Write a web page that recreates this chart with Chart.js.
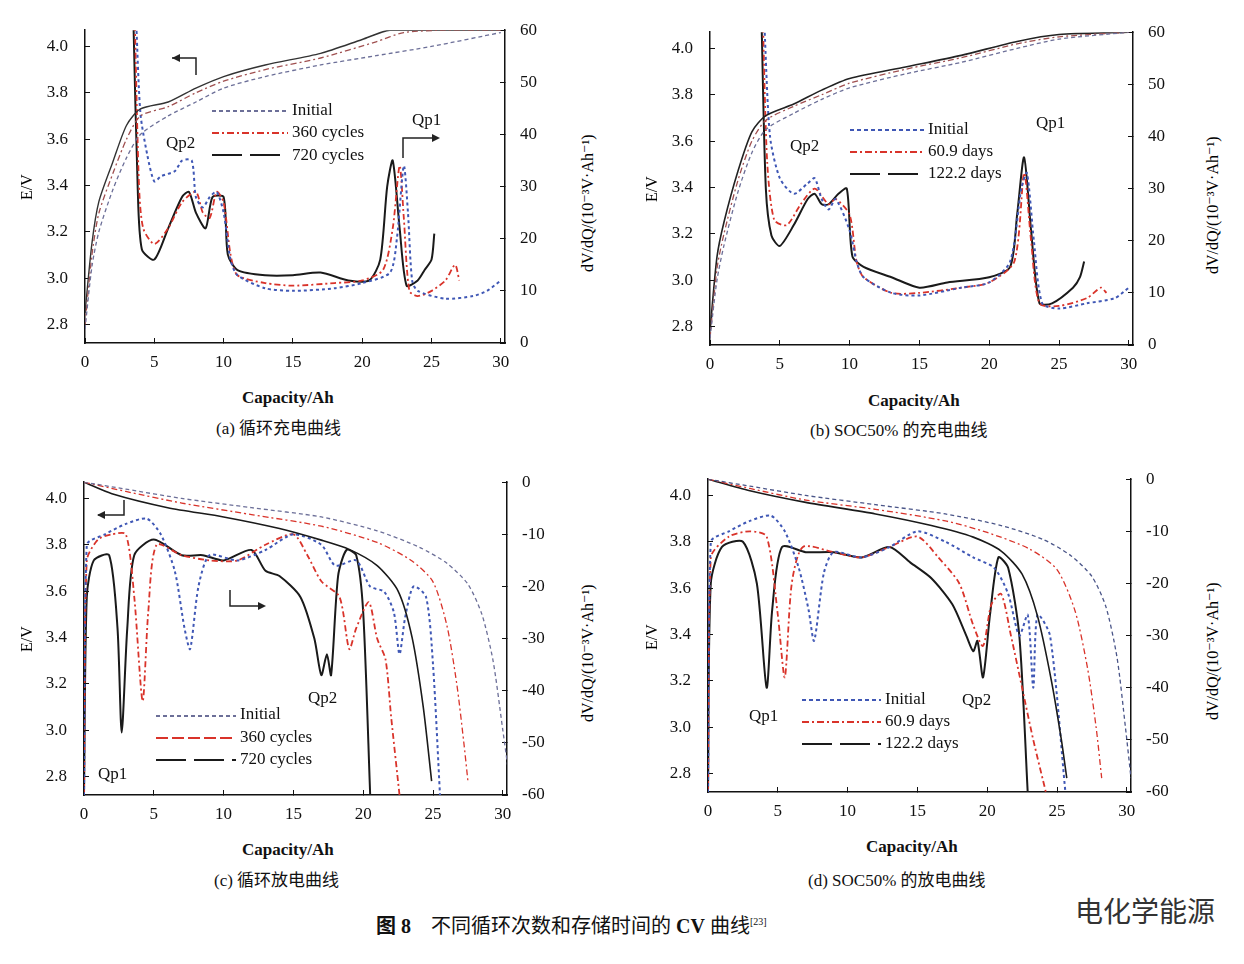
<!DOCTYPE html>
<html><head><meta charset="utf-8">
<script src="https://cdn.jsdelivr.net/npm/chart.js@4/dist/chart.umd.min.js"></script>
<style>
body{margin:0;background:#fff;width:1244px;height:964px;position:relative;overflow:hidden;font-family:"Liberation Serif","DejaVu Serif",serif;}
canvas{position:absolute}
.t{position:absolute;font-size:17px;color:#111;white-space:nowrap}
.cap{position:absolute;font-size:17px;color:#111;white-space:nowrap;font-family:"Liberation Serif","Noto Sans CJK SC",serif}
.rot{position:absolute;transform:rotate(-90deg);transform-origin:left top;font-size:16px;white-space:nowrap}
svg{position:absolute;left:0;top:0}
</style></head><body>
<script>
// ---------- DATA ----------
// Panel (a) cyclic charge: voltage [capacity, V]
const aVInit=[[0,2.78],[0.5,3.05],[1,3.2],[2,3.38],[3,3.52],[4,3.62],[6,3.7],[8,3.76],[10,3.82],[13,3.87],[17,3.92],[21,3.96],[25,4.0],[30,4.06]];
const aV360=[[0,2.8],[0.5,3.1],[1,3.28],[2,3.45],[3,3.6],[4,3.7],[6,3.74],[8,3.8],[10,3.85],[13,3.9],[17,3.95],[21,4.02],[23,4.06],[26,4.07],[30,4.07]];
const aV720=[[0,2.85],[0.5,3.15],[1,3.33],[2,3.5],[3,3.66],[4,3.73],[6,3.76],[8,3.82],[10,3.87],[13,3.92],[17,3.97],[20,4.03],[22,4.07],[30,4.07]];
// dQ/dV [capacity, 1e-3 V/Ah]
const aDInit=[[3.7,61],[4,44],[4.5,36],[5,31],[5.5,32],[6.5,33],[7,35],[7.7,35],[8,28],[8.5,26],[9,28],[9.5,29],[10,25],[10.5,16],[11,13],[13,10.5],[15,10],[18,10.5],[20,11.5],[22,13.5],[22.5,20],[23,34],[23.3,25],[23.6,12],[24,10],[26,8.5],[28,9],[29,10],[30,12]];
const aD360=[[3.6,61],[3.9,30],[4.2,22],[5,19],[6,22],[7,27],[8,29],[8.5,25],[9,24],[9.5,29],[10,27],[10.5,17],[11,13],[13,11.5],[15,11],[18,11.5],[20,12],[21.5,14],[22.2,22],[22.7,34],[23,24],[23.4,10],[24,9],[25,10],[26,12],[26.7,15],[27,12]];
const aD720=[[3.5,61],[3.8,30],[4.1,18],[5,16],[6,22],[7,28],[7.5,29],[8,25],[8.7,22],[9.2,28],[10,28],[10.3,17],[11,14],[13,13],[15,13],[17,13.5],[19,12],[20.5,12],[21.3,16],[21.8,30],[22.2,35],[22.7,22],[23.2,11],[24,12],[24.5,14],[25,16],[25.2,21]];
// Panel (b) SOC50% charge
const bVInit=[[0,2.75],[0.5,3.0],[1,3.15],[2,3.38],[3,3.55],[4,3.65],[6,3.72],[8,3.78],[10,3.83],[14,3.89],[18,3.94],[22,4.0],[25,4.04],[30,4.07]];
const bV60=[[0,2.75],[0.5,3.05],[1,3.2],[2,3.43],[3,3.6],[4,3.69],[6,3.75],[8,3.8],[10,3.85],[14,3.91],[18,3.96],[22,4.02],[25,4.05],[30,4.07]];
const bV122=[[0,2.78],[0.5,3.1],[1,3.25],[2,3.47],[3,3.64],[4,3.71],[6,3.76],[8,3.82],[10,3.87],[14,3.92],[18,3.97],[22,4.03],[25,4.06],[30,4.07]];
const bDInit=[[3.9,61],[4.3,40],[5,32],[6,29],[7,31],[7.5,32],[8,28],[8.5,26],[9,28],[10,22],[10.5,16],[11,13],[13,10],[15,9.5],[18,11],[20,12],[21.5,16],[22.3,30],[22.7,33],[23.2,20],[23.8,8],[25,7],[27,8],[29,9],[30,11]];
const bD60=[[3.8,61],[4.1,35],[4.6,24],[5.5,23],[6.5,27],[7.5,30],[8.5,27],[9,28],[10,25],[10.5,16],[11,13],[13,10],[15,10],[18,11],[20,12],[21.8,16],[22.5,33],[23,20],[23.6,8],[25,7.5],[27,9],[28,11],[28.4,10]];
const bD122=[[3.7,61],[4,30],[4.4,21],[5,19],[6,23],[7,28],[7.5,29],[8,27],[8.5,27],[9.2,29],[9.8,30],[10.2,17],[11,15],[13,13],[15,11],[17,12],[20,13],[21.5,15],[22,25],[22.5,36],[23,22],[23.6,8],[24.5,8],[26,11],[26.5,13],[26.8,16]];
// Panel (c) cyclic discharge
const cVInit=[[0,4.07],[3,4.04],[7,4.0],[12,3.96],[17,3.92],[21,3.86],[24,3.79],[26,3.72],[27.5,3.63],[28.5,3.5],[29.3,3.3],[30,3.0],[30.5,2.78]];
const cV360=[[0,4.07],[3,4.03],[7,3.98],[12,3.93],[17,3.88],[21,3.81],[23.5,3.73],[25,3.64],[26,3.45],[26.7,3.2],[27.2,2.95],[27.5,2.78]];
const cV720=[[0,4.07],[2,4.02],[6,3.96],[10,3.92],[14,3.87],[17,3.82],[19,3.78],[21,3.71],[22.5,3.6],[23.5,3.4],[24.3,3.1],[24.9,2.78]];
const cDInit=[[0,-60],[0.2,-12],[1.5,-10],[3,-8],[4.5,-7],[5.5,-10],[6.5,-17],[7.2,-28],[7.6,-32],[8.2,-20],[9,-14],[11,-15],[13,-13],[15,-10],[17,-12],[18,-16],[19.5,-15],[20.5,-20],[21.5,-21],[22.2,-25],[22.6,-33],[23,-26],[23.6,-20],[24.5,-22],[25,-35],[25.5,-60]];
const cD360=[[0,-60],[0.2,-15],[1,-11],[2,-10],[3,-10],[3.6,-22],[4.2,-42],[4.6,-25],[5.2,-12],[7,-14],[9,-15],[11,-15],[13,-12],[15,-10],[16,-14],[17,-19],[18.3,-22],[19,-32],[19.5,-28],[20.4,-23],[21,-30],[21.6,-34],[22,-45],[22.6,-60]];
const cD720=[[0,-60],[0.2,-22],[0.7,-15],[1.8,-14],[2.4,-28],[2.7,-48],[3.1,-28],[3.6,-14],[5,-11],[7,-14],[8.5,-14],[10,-15],[12,-13],[13,-17],[14,-18],[15.5,-22],[16.5,-30],[17,-37],[17.4,-33],[17.7,-37],[18.2,-18],[18.8,-13],[19.5,-14],[20,-25],[20.5,-60]];
// Panel (d) SOC50% discharge
const dVInit=[[0,4.07],[3,4.04],[7,4.0],[12,3.96],[17,3.92],[21,3.87],[24,3.81],[26,3.74],[27.5,3.65],[28.5,3.52],[29.3,3.3],[29.9,3.0],[30.3,2.78]];
const dV60=[[0,4.07],[3,4.03],[7,3.98],[12,3.94],[17,3.89],[20,3.84],[23,3.77],[25,3.68],[26.3,3.5],[27.2,3.25],[27.8,3.0],[28.2,2.78]];
const dV122=[[0,4.07],[3,4.02],[7,3.97],[12,3.92],[16,3.87],[19,3.82],[21,3.76],[22.5,3.66],[23.6,3.48],[24.6,3.2],[25.3,2.95],[25.7,2.78]];
const dDInit=[[0,-60],[0.2,-12],[1.5,-10],[3,-8],[4.5,-7],[5.5,-10],[6.5,-17],[7.2,-25],[7.6,-31],[8.3,-18],[9,-14],[11,-15],[13,-13],[15,-10],[17,-12],[19,-15],[20.5,-17],[21.5,-22],[22.3,-30],[22.9,-26],[23.3,-40],[23.6,-26],[24.5,-30],[25.6,-60]];
const dD60=[[0,-60],[0.2,-15],[1.5,-11],[3,-10],[4.2,-11],[5,-26],[5.5,-38],[6,-20],[6.8,-13],[9,-14],[11,-15],[13,-13],[15,-11],[16.5,-15],[18,-20],[19,-28],[19.7,-32],[20.3,-24],[21,-22],[21.7,-30],[22.5,-40],[23.3,-50],[24.2,-60]];
const dD122=[[0,-60],[0.2,-20],[1,-13],[2.5,-12],[3.5,-20],[4.2,-40],[4.6,-25],[5.3,-13],[7,-14],[9,-14],[11,-15],[13,-13],[14.5,-16],[16,-19],[17.5,-24],[18.5,-30],[19,-33],[19.3,-31],[19.7,-38],[20.2,-26],[20.8,-15],[21.5,-17],[22.3,-30],[22.9,-60]];
const xTicks=[0,5,10,15,20,25,30];
const vTicks=[2.8,3.0,3.2,3.4,3.6,3.8,4.0];

const BLUE='#3f57b5',RED='#d9332a',BLK='#1a1a1a',GRAY='#6c6f98';
function ds(d,color,dash,axis,w){return{data:d.map(p=>({x:p[0],y:p[1]})),borderColor:color,borderDash:dash,borderWidth:w||1.6,pointRadius:0,tension:0.25,yAxisID:axis,fill:false};}
function panel(id,L,T,W,H,yR,sets){
  const c=document.createElement('canvas');c.id=id;
  const LW=70,RW=70,XH=40,TOP=30;
  const cw=W+LW+RW,ch=H+TOP+XH;
  c.style.left=(L-LW)+'px';c.style.top=(T-TOP)+'px';c.style.width=cw+'px';c.style.height=ch+'px';
  c.width=cw;c.height=ch;
  document.body.appendChild(c);
  const tickFont={family:'Liberation Serif',size:17};
  new Chart(c,{type:'line',data:{datasets:sets},options:{responsive:false,animation:false,devicePixelRatio:1,
    layout:{padding:0},plugins:{legend:{display:false},tooltip:{enabled:false}},
    scales:{
      x:{type:'linear',min:0,max:30.3,afterBuildTicks:a=>{a.ticks=xTicks.map(v=>({value:v}))},
        afterFit:a=>{a.height=XH},ticks:{font:tickFont,color:'#111',padding:14,maxRotation:0},grid:{drawOnChartArea:false,tickLength:-5,color:'#111'},border:{color:'#111',width:1.5}},
      y:{position:'left',min:2.72,max:4.07,afterBuildTicks:a=>{a.ticks=vTicks.map(v=>({value:v}))},
        afterFit:a=>{a.width=LW},ticks:{font:tickFont,color:'#111',callback:v=>v.toFixed(1),padding:22},grid:{drawOnChartArea:false,tickLength:-5,color:'#111'},border:{color:'#111',width:1.5}},
      y2:{position:'right',min:yR[0],max:yR[1],afterBuildTicks:a=>{const t=[];for(let v=yR[0];v<=yR[1];v+=10)t.push({value:v});a.ticks=t},
        afterFit:a=>{a.width=RW},ticks:{font:tickFont,color:'#111',padding:20},grid:{drawOnChartArea:false,tickLength:-5,color:'#111'},border:{color:'#111',width:1.5}}
    }}});
  return c;
}
panel('a',85,28,420,315,[0,60],[
  ds(aVInit,GRAY,[4,3],'y',1.3),ds(aV360,'#a05050',[6,3,2,3],'y',1.3),ds(aV720,'#333',[],'y',1.4),
  ds(aDInit,BLUE,[3,3],'y2',2),ds(aD360,RED,[6,3,2,3],'y2',1.8),ds(aD720,BLK,[],'y2',2)]);
panel('b',710,30,423,315,[0,60],[
  ds(bVInit,GRAY,[4,3],'y',1.3),ds(bV60,'#a05050',[6,3,2,3],'y',1.3),ds(bV122,'#222',[],'y',1.6),
  ds(bDInit,BLUE,[3,3],'y2',2),ds(bD60,RED,[6,3,2,3],'y2',1.8),ds(bD122,BLK,[],'y2',2)]);
panel('c',84,480,423,315,[-60,0],[
  ds(cVInit,GRAY,[4,3],'y',1.3),ds(cV360,RED,[6,3,2,3],'y',1.3),ds(cV720,BLK,[],'y',1.6),
  ds(cDInit,BLUE,[3,3],'y2',2),ds(cD360,RED,[6,3,2,3],'y2',1.8),ds(cD720,BLK,[],'y2',2)]);
panel('d',708,477,423,315,[-60,0],[
  ds(dVInit,'#4a5588',[4,3],'y',1.3),ds(dV60,RED,[6,3,2,3],'y',1.3),ds(dV122,BLK,[],'y',1.6),
  ds(dDInit,BLUE,[3,3],'y2',2),ds(dD60,RED,[6,3,2,3],'y2',1.8),ds(dD122,BLK,[],'y2',2)]);
</script>
<!-- axis titles -->
<div class="rot" style="left:18px;top:200px">E/V</div>
<div class="rot" style="left:643px;top:202px">E/V</div>
<div class="rot" style="left:18px;top:652px">E/V</div>
<div class="rot" style="left:643px;top:650px">E/V</div>
<div class="rot" style="left:578px;top:272px">dV/dQ/(10⁻³V·Ah⁻¹)</div>
<div class="rot" style="left:1203px;top:274px">dV/dQ/(10⁻³V·Ah⁻¹)</div>
<div class="rot" style="left:578px;top:722px">dV/dQ/(10⁻³V·Ah⁻¹)</div>
<div class="rot" style="left:1203px;top:720px">dV/dQ/(10⁻³V·Ah⁻¹)</div>
<div class="t" style="left:242px;top:388px;font-weight:bold">Capacity/Ah</div>
<div class="t" style="left:868px;top:391px;font-weight:bold">Capacity/Ah</div>
<div class="t" style="left:242px;top:840px;font-weight:bold">Capacity/Ah</div>
<div class="t" style="left:866px;top:837px;font-weight:bold">Capacity/Ah</div>
<div class="cap" style="left:216px;top:414px">(a) 循环充电曲线</div>
<div class="cap" style="left:810px;top:416px">(b) SOC50% 的充电曲线</div>
<div class="cap" style="left:214px;top:866px">(c) 循环放电曲线</div>
<div class="cap" style="left:808px;top:866px">(d) SOC50% 的放电曲线</div>
<div class="cap" style="left:376px;top:910px;font-size:20px"><b>图 8</b>&nbsp;&nbsp;&nbsp; 不同循环次数和存储时间的 <b>CV</b> 曲线<sup style="font-size:10px">[23]</sup></div>
<div class="cap" style="left:1075px;top:890px;font-size:28px;color:#333;font-family:'Noto Sans CJK SC'">电化学能源</div>
<!-- annotations -->
<div class="t" style="left:166px;top:133px">Qp2</div>
<div class="t" style="left:412px;top:110px">Qp1</div>
<div class="t" style="left:790px;top:136px">Qp2</div>
<div class="t" style="left:1036px;top:113px">Qp1</div>
<div class="t" style="left:308px;top:688px">Qp2</div>
<div class="t" style="left:98px;top:764px">Qp1</div>
<div class="t" style="left:962px;top:690px">Qp2</div>
<div class="t" style="left:749px;top:706px">Qp1</div>
<!-- legends -->
<div class="t" style="left:292px;top:100px">Initial</div>
<div class="t" style="left:292px;top:122px">360 cycles</div>
<div class="t" style="left:292px;top:145px">720 cycles</div>
<div class="t" style="left:928px;top:119px">Initial</div>
<div class="t" style="left:928px;top:141px">60.9 days</div>
<div class="t" style="left:928px;top:163px">122.2 days</div>
<div class="t" style="left:240px;top:704px">Initial</div>
<div class="t" style="left:240px;top:727px">360 cycles</div>
<div class="t" style="left:240px;top:749px">720 cycles</div>
<div class="t" style="left:885px;top:689px">Initial</div>
<div class="t" style="left:885px;top:711px">60.9 days</div>
<div class="t" style="left:885px;top:733px">122.2 days</div>
<svg width="1244" height="964">
 <g stroke-width="2" fill="none">
  <line x1="212" y1="111" x2="288" y2="111" stroke="#6c6f98" stroke-dasharray="4 3"/>
  <line x1="212" y1="133" x2="288" y2="133" stroke="#d9332a" stroke-dasharray="7 3 2 3"/>
  <line x1="212" y1="155" x2="288" y2="155" stroke="#1a1a1a" stroke-dasharray="30 8"/>
  <line x1="850" y1="130" x2="925" y2="130" stroke="#3f57b5" stroke-dasharray="4 3"/>
  <line x1="850" y1="152" x2="925" y2="152" stroke="#d9332a" stroke-dasharray="7 3 2 3"/>
  <line x1="850" y1="174" x2="925" y2="174" stroke="#1a1a1a" stroke-dasharray="30 8"/>
  <line x1="156" y1="716" x2="236" y2="716" stroke="#6c6f98" stroke-dasharray="4 3"/>
  <line x1="156" y1="738" x2="236" y2="738" stroke="#d9332a" stroke-dasharray="12 4"/>
  <line x1="156" y1="760" x2="236" y2="760" stroke="#1a1a1a" stroke-dasharray="30 8"/>
  <line x1="802" y1="700" x2="881" y2="700" stroke="#3f57b5" stroke-dasharray="4 3"/>
  <line x1="802" y1="722" x2="881" y2="722" stroke="#d9332a" stroke-dasharray="7 3 2 3"/>
  <line x1="802" y1="744" x2="881" y2="744" stroke="#1a1a1a" stroke-dasharray="30 8"/>
  <path d="M196 75 V58 H172" stroke="#222" stroke-width="1.5"/>
  <path d="M172 58 l8 -4 v8z" fill="#222"/>
  <path d="M403 158 V138 H438" stroke="#222" stroke-width="1.5"/>
  <path d="M440 138 l-8 -4 v8z" fill="#222"/>
  <path d="M124 500 V515 H98" stroke="#222" stroke-width="1.5"/>
  <path d="M97 515 l8 -4 v8z" fill="#222"/>
  <path d="M230 590 V606 H264" stroke="#222" stroke-width="1.5"/>
  <path d="M266 606 l-8 -4 v8z" fill="#222"/>
 </g>
</svg>
</body></html>
